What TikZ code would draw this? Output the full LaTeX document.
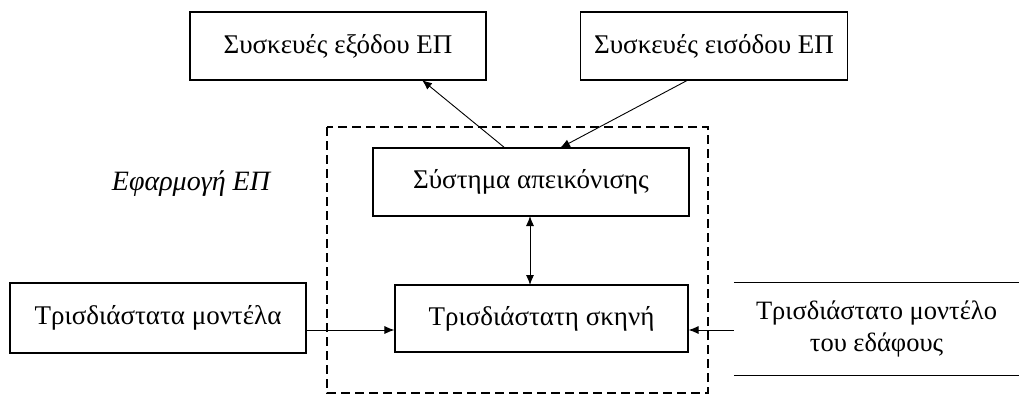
\documentclass[tikz,border=0pt]{standalone}
\usepackage{fontspec}
\setmainfont{Liberation Serif}
\usetikzlibrary{arrows.meta}
\begin{document}
\begin{tikzpicture}[x=1pt,y=-1pt,
  box/.style={draw,line width=1.1pt,rectangle,inner sep=0pt,font=\fontsize{27}{30}\selectfont},
  plain/.style={rectangle,inner sep=0pt,font=\fontsize{26.5}{32}\selectfont,align=center},
  conn/.style={line width=0.9pt,-{Latex[length=10pt,width=8pt]}},
  biconn/.style={line width=0.9pt,{Latex[length=10pt,width=8pt]}-{Latex[length=10pt,width=8pt]}}]
\useasboundingbox (0,0) rectangle (1019,396);
% dashed application frame
\draw[line width=1.1pt,dash pattern=on 9pt off 5pt] (327,127) rectangle (708,393);
\node[font=\fontsize{28}{30}\selectfont\itshape] (app) at (191,184) {Εφαρμογή ΕΠ};
% top devices
\node[box,minimum width=296pt,minimum height=68pt] (out) at (338,46) {\raisebox{5pt}{Συσκευές εξόδου ΕΠ}};
\node[box,minimum width=267pt,minimum height=68pt] (in) at (714,46) {\raisebox{5pt}{Συσκευές εισόδου ΕΠ}};
% inner boxes
\node[box,minimum width=316pt,minimum height=68pt] (disp) at (531,182) {\raisebox{3pt}{Σύστημα απεικόνισης}};
\node[box,minimum width=293pt,minimum height=67pt] (scene) at (541.5,318.5) {Τρισδιάστατη σκηνή};
% side inputs
\node[box,minimum width=296pt,minimum height=70pt] (models) at (158,318) {\raisebox{4pt}{Τρισδιάστατα μοντέλα}};
\node[plain,minimum width=285pt,minimum height=92pt] (terrain) at (876.5,329) {Τρισδιάστατο μοντέλο\\του εδάφους};
\draw[line width=1.1pt] (terrain.north west) -- (terrain.north east);
\draw[line width=1.1pt] (terrain.south west) -- (terrain.south east);
% connectors
\coordinate (dispA) at (505,148);
\coordinate (outB) at (422,80);
\coordinate (inB) at (688,80);
\coordinate (dispB) at (560,148);
\draw[conn] (dispA) -- (outB);
\draw[conn] (inB) -- (dispB);
\draw[biconn] (530,216) -- (530,285);
\draw[conn] (models.east |- 0,330) -- (scene.west |- 0,330);
\draw[conn] (terrain.west |- 0,330) -- (scene.east |- 0,330);
\end{tikzpicture}
\end{document}
